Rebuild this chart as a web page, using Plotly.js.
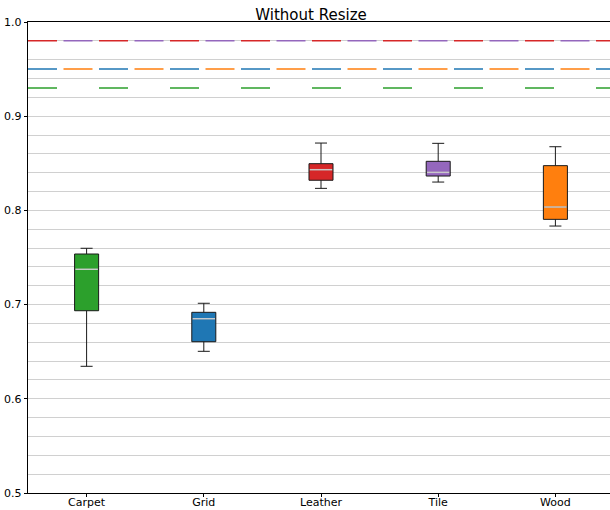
<!DOCTYPE html>
<html>
<head>
<meta charset="utf-8">
<script src="https://cdn.plot.ly/plotly-3.0.1.min.js"></script>
<style>
  html, body { margin: 0; padding: 0; overflow: hidden; background: #fff; }
  #chart { width: 614px; height: 510px; }
</style>
</head>
<body>
<div id="chart"></div>
<script>
// Box statistics per texture category
const categories = ["Carpet", "Grid", "Leather", "Tile", "Wood"];
const boxColors  = ["#2ca02c", "#1f77b4", "#d62728", "#9467bd", "#ff7f0e"];
const lowerFence = [0.6345, 0.6504, 0.8234, 0.8301, 0.7834];
const q1Values   = [0.6935, 0.6606, 0.8320, 0.8365, 0.7905];
const medians    = [0.7375, 0.6850, 0.8432, 0.8404, 0.8036];
const q3Values   = [0.7537, 0.6918, 0.8496, 0.8521, 0.8475];
const upperFence = [0.7598, 0.7014, 0.8715, 0.8712, 0.8676];

// Reference threshold lines: [value, colour, dash phase (0 or 1)]
const refValues  = [0.98, 0.98, 0.95, 0.95, 0.93];
const refColors  = ["#d62728", "#9467bd", "#1f77b4", "#ff7f0e", "#2ca02c"];
const refPhase   = [0, 1, 0, 1, 0];

const boxWidth = 0.205;
const traces = [];

categories.forEach((name, i) => {
  traces.push({
    type: "box",
    name: name,
    x: [i],
    q1: [q1Values[i]],
    median: [medians[i]],
    q3: [q3Values[i]],
    lowerfence: [lowerFence[i]],
    upperfence: [upperFence[i]],
    width: boxWidth,
    whiskerwidth: 0.5,
    fillcolor: boxColors[i],
    line: { color: "#1a1a1a", width: 1 },
    boxpoints: false,
    hoverinfo: "skip",
    showlegend: false
  });
});

// Light median strokes drawn over each box
const medX = [], medY = [];
categories.forEach((_, i) => {
  medX.push(i - boxWidth / 2 + 0.006, i + boxWidth / 2 - 0.006, null);
  medY.push(medians[i], medians[i], null);
});
traces.push({
  type: "scatter",
  mode: "lines",
  x: medX,
  y: medY,
  line: { color: "rgba(255,255,255,0.75)", width: 1.5 },
  hoverinfo: "skip",
  showlegend: false
});

const plotWidthPx = 586;
const dashPeriod = 71;
const shapes = refValues.map((v, k) => ({
  type: "line",
  xref: "paper",
  yref: "y",
  x0: refPhase[k] ? (dashPeriod / 2) / plotWidthPx : 0,
  x1: 1,
  y0: v,
  y1: v,
  layer: "above",
  line: { color: refColors[k], width: 1.5, dash: "29px,42px" }
}));

const layout = {
  width: 614,
  height: 510,
  margin: { l: 28, r: 0, t: 22, b: 17 },
  paper_bgcolor: "#fff",
  plot_bgcolor: "#fff",
  font: { family: "DejaVu Sans, sans-serif", size: 11, color: "#000" },
  title: {
    text: "Without Resize",
    font: { family: "DejaVu Sans, sans-serif", size: 15, color: "#000" },
    xref: "paper",
    x: 0.483,
    xanchor: "center",
    yref: "paper",
    y: 1,
    yanchor: "bottom",
    pad: { b: 2 }
  },
  showlegend: false,
  boxmode: "overlay",
  xaxis: {
    range: [-0.5, 4.5],
    tickmode: "array",
    tickvals: categories.map((_, i) => i),
    ticktext: categories,
    ticks: "outside",
    ticklen: 3,
    tickcolor: "#000",
    ticklabelstandoff: -4,
    showgrid: false,
    zeroline: false,
    showline: true,
    linecolor: "#000",
    linewidth: 1.2,
    mirror: true,
    tickfont: { size: 11 }
  },
  yaxis: {
    range: [0.5, 1.0],
    tickmode: "array",
    tickvals: [0.5, 0.6, 0.7, 0.8, 0.9, 1.0],
    ticktext: ["0.5", "0.6", "0.7", "0.8", "0.9", "1.0"],
    ticks: "outside",
    ticklen: 3,
    tickcolor: "#000",
    showgrid: true,
    gridcolor: "#d0d0d0",
    gridwidth: 1,
    minor: { dtick: 0.02, tick0: 0.5, showgrid: true, gridcolor: "#d0d0d0", gridwidth: 1, ticks: "" },
    zeroline: false,
    showline: true,
    linecolor: "#000",
    linewidth: 1.2,
    tickfont: { size: 11 }
  },
  shapes: shapes
};

Plotly.newPlot("chart", traces, layout, { staticPlot: true, displayModeBar: false });
</script>
</body>
</html>
